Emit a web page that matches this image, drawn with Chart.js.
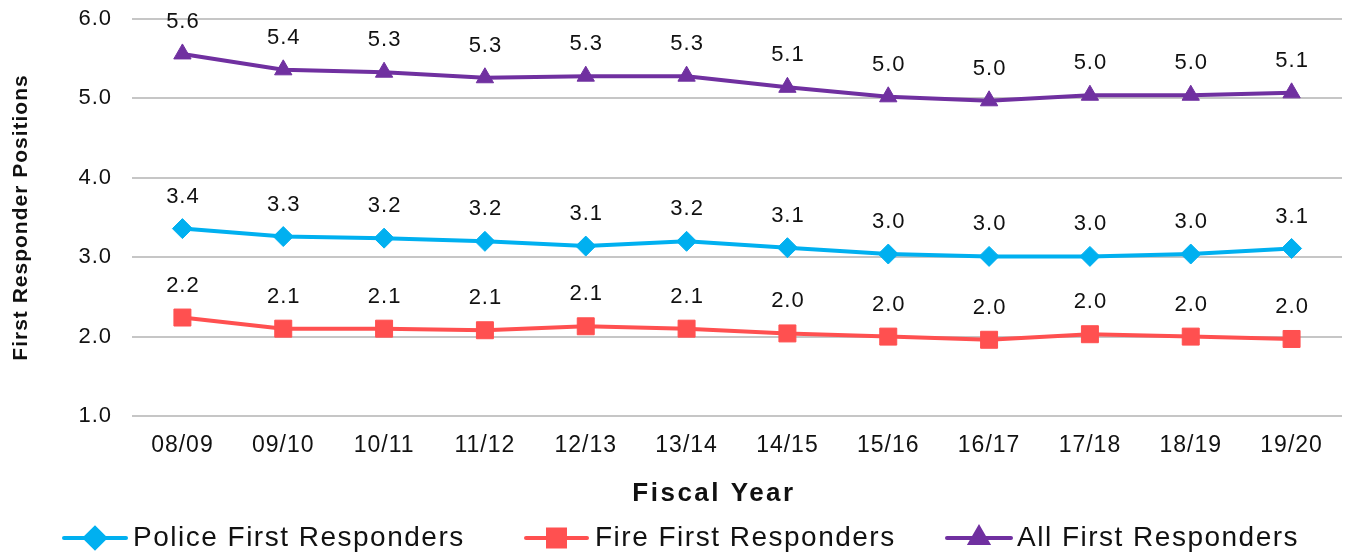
<!DOCTYPE html>
<html>
<head>
<meta charset="utf-8">
<script src="https://cdn.jsdelivr.net/npm/chart.js@4"></script>
<style>
  html, body { margin: 0; padding: 0; background: #fff; }
  #wrap { width: 1347px; height: 555px; }
</style>
</head>
<body>
<div id="wrap"><canvas id="respChart"></canvas></div>
<script>
const years = ['08/09', '09/10', '10/11', '11/12', '12/13', '13/14', '14/15', '15/16', '16/17', '17/18', '18/19', '19/20'];
const police = [3.36, 3.26, 3.24, 3.20, 3.14, 3.20, 3.12, 3.04, 3.01, 3.01, 3.04, 3.11];
const fire = [2.24, 2.10, 2.10, 2.08, 2.13, 2.10, 2.04, 2.00, 1.96, 2.03, 2.00, 1.97];
const allResp = [5.56, 5.36, 5.33, 5.26, 5.28, 5.28, 5.14, 5.02, 4.97, 5.04, 5.04, 5.07];
const yTicks = [1, 2, 3, 4, 5, 6];

const FONT = "'Liberation Sans', Arial, sans-serif";
const BLUE = '#00b0f0', RED = '#ff5050', PURPLE = '#7030a0';

// the office rendering is a bit wider than plain Arial, so space the letters
const spacing = {
    id: 'spacing',
    beforeDraw(chart) { chart.ctx.letterSpacing = '1px'; },
    afterDraw(chart) { chart.ctx.letterSpacing = '0px'; }
};

// value labels above each point
const valueLabels = {
    id: 'valueLabels',
    afterDatasetsDraw(chart) {
        const ctx = chart.ctx;
        ctx.save();
        ctx.font = '22px ' + FONT;
        ctx.letterSpacing = '1px';
        ctx.fillStyle = '#111';
        ctx.textAlign = 'center';
        ctx.textBaseline = 'middle';
        chart.data.datasets.forEach((ds, i) => {
            chart.getDatasetMeta(i).data.forEach((pt, j) => {
                ctx.fillText(ds.data[j].toFixed(1), pt.x + 0.5, pt.y - 32);
            });
        });
        ctx.restore();
    }
};

// x title + legend with line and marker
const bottomText = {
    id: 'bottomText',
    afterDraw(chart) {
        const ctx = chart.ctx;
        ctx.save();
        ctx.fillStyle = '#111';
        ctx.font = 'bold 26px ' + FONT;
        ctx.letterSpacing = '2.5px';
        ctx.textAlign = 'center';
        ctx.textBaseline = 'middle';
        ctx.fillText('Fiscal Year', 714, 494);

        const y = 538;
        const items = [
            { ds: 0, x1: 64, x2: 126, tx: 133 },
            { ds: 1, x1: 526, x2: 587, tx: 595 },
            { ds: 2, x1: 947, x2: 1011, tx: 1017 }
        ];
        items.forEach(it => {
            const ds = chart.data.datasets[it.ds];
            ctx.strokeStyle = ds.borderColor;
            ctx.fillStyle = ds.borderColor;
            ctx.lineWidth = 4;
            ctx.lineCap = 'round';
            ctx.beginPath();
            ctx.moveTo(it.x1, y);
            ctx.lineTo(it.x2, y);
            ctx.stroke();
            Chart.helpers.drawPoint(ctx, {
                pointStyle: ds.pointStyle, radius: ds.pointRadius, rotation: 0, borderWidth: 1
            }, (it.x1 + it.x2) / 2, y);
            ctx.fillStyle = '#111';
            ctx.font = '28px ' + FONT;
            ctx.letterSpacing = '1.5px';
            ctx.textAlign = 'left';
            ctx.textBaseline = 'middle';
            ctx.fillText(ds.label, it.tx, y);
        });
        ctx.restore();
    }
};

new Chart(document.getElementById('respChart'), {
    type: 'line',
    data: {
        labels: years,
        datasets: [
            {
                label: 'Police First Responders',
                data: police,
                borderColor: BLUE,
                backgroundColor: BLUE,
                borderWidth: 4,
                pointStyle: 'rectRot',
                pointRadius: 10,
                pointBorderWidth: 1
            },
            {
                label: 'Fire First Responders',
                data: fire,
                borderColor: RED,
                backgroundColor: RED,
                borderWidth: 4,
                pointStyle: 'rect',
                pointRadius: 12,
                pointBorderWidth: 1
            },
            {
                label: 'All First Responders',
                data: allResp,
                borderColor: PURPLE,
                backgroundColor: PURPLE,
                borderWidth: 4,
                pointStyle: 'triangle',
                pointRadius: 10,
                pointBorderWidth: 1
            }
        ]
    },
    options: {
        responsive: true,
        maintainAspectRatio: false,
        animation: false,
        layout: { autoPadding: false, padding: { top: 19, right: 5, bottom: 0, left: 0 } },
        scales: {
            x: {
                offset: true,
                grid: { display: false, drawTicks: false },
                border: { display: false },
                ticks: { color: '#111', font: { family: FONT, size: 23 }, padding: 16, maxRotation: 0 },
                afterFit(scale) { scale.height = 139; }
            },
            y: {
                min: 1,
                max: 6,
                afterBuildTicks(scale) { scale.ticks = yTicks.map(v => ({ value: v })); },
                grid: { color: '#c6c6c6', lineWidth: 2, drawTicks: false },
                border: { display: false },
                ticks: {
                    color: '#111',
                    font: { family: FONT, size: 22 },
                    padding: 20,
                    callback: v => v.toFixed(1)
                },
                title: {
                    display: true,
                    text: 'First Responder Positions',
                    color: '#111',
                    font: { family: FONT, size: 21, weight: 'bold' },
                    padding: { top: 9, bottom: 0 }
                },
                afterFit(scale) {
                    scale.width = 132;
                    scale.paddingTop = 0;
                    scale.paddingBottom = 0;
                }
            }
        },
        plugins: {
            legend: { display: false },
            tooltip: { enabled: false }
        }
    },
    plugins: [spacing, valueLabels, bottomText]
});
</script>
</body>
</html>
